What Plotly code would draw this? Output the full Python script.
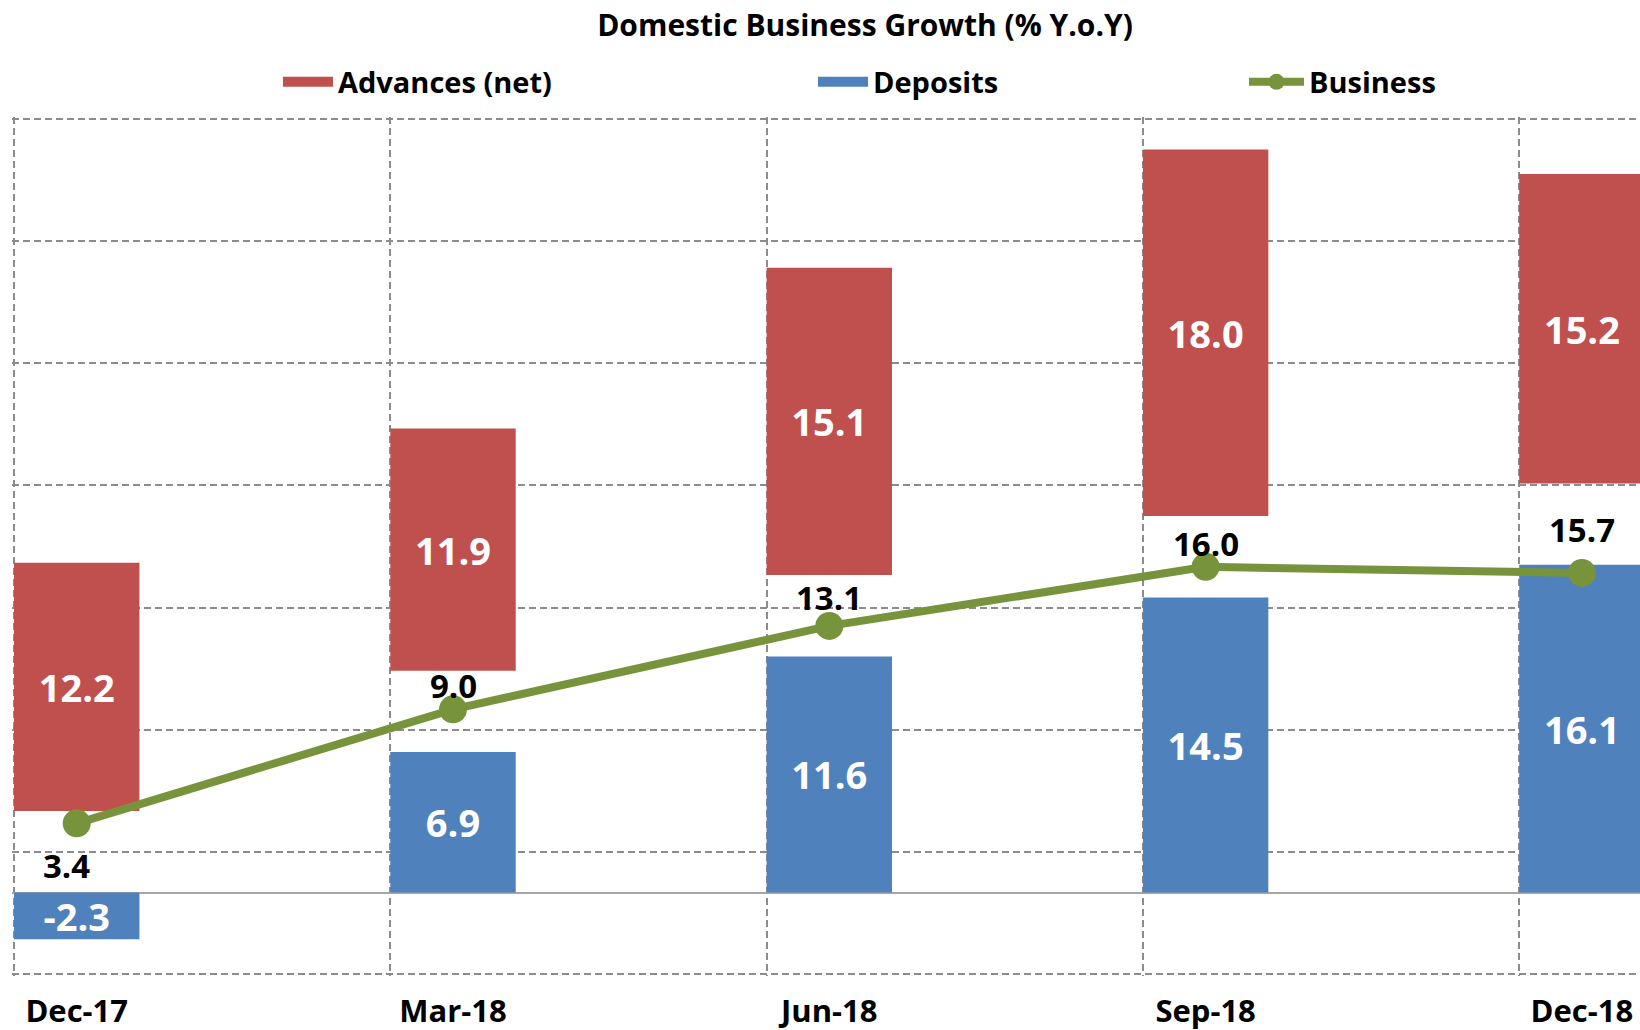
import plotly.graph_objects as go

# ---------------- data ----------------
categories = ["Dec-17", "Mar-18", "Jun-18", "Sep-18", "Dec-18"]
advances = [12.2, 11.9, 15.1, 18.0, 15.2]
deposits = [-2.3, 6.9, 11.6, 14.5, 16.1]
business = [3.4, 9.0, 13.1, 16.0, 15.7]
spacer = [4.0, 4.0, 4.0, 4.0, 4.0]  # invisible gap series between the two stacks

# ---------------- style ----------------
RED = "#C0504D"
BLUE = "#4F81BD"
GREEN = "#77933C"
GRID = "#8C8C8C"
FONT = "Open Sans"

W, H = 1640, 1030
ML, MR, MT, MB = 12, 0, 117, 54
PX_PER_CAT = 376.3
plot_w = W - ML - MR
plot_h = H - MT - MB
x0 = -1 / 6 - 2 / PX_PER_CAT
x1 = x0 + plot_w / PX_PER_CAT

xpos = list(range(len(categories)))

fig = go.Figure()

bar_text_font = dict(color="white", size=38, family=FONT, weight="bold")

fig.add_bar(
    x=xpos, y=deposits, width=1 / 3,
    marker=dict(color=BLUE, line=dict(width=0)),
    text=[f"{v:.1f}" for v in deposits], textposition="inside",
    insidetextanchor="middle", textfont=bar_text_font,
    showlegend=False, hoverinfo="skip",
)
fig.add_bar(
    x=xpos, y=spacer, width=1 / 3,
    marker=dict(color="rgba(0,0,0,0)", line=dict(width=0)),
    showlegend=False, hoverinfo="skip",
)
fig.add_bar(
    x=xpos, y=advances, width=1 / 3,
    marker=dict(color=RED, line=dict(width=0)),
    text=[f"{v:.1f}" for v in advances], textposition="inside",
    insidetextanchor="middle", textfont=bar_text_font,
    showlegend=False, hoverinfo="skip",
)
fig.add_scatter(
    x=xpos, y=business, mode="lines+markers",
    line=dict(color=GREEN, width=8),
    marker=dict(size=28, color=GREEN),
    showlegend=False, hoverinfo="skip",
)

# legend-only entries
fig.add_scatter(x=[None], y=[None], mode="lines", line=dict(color=RED, width=10),
                name="Advances (net)", legend="legend")
fig.add_scatter(x=[None], y=[None], mode="lines", line=dict(color=BLUE, width=10),
                name="Deposits", legend="legend2")
fig.add_scatter(x=[None], y=[None], mode="lines+markers", line=dict(color=GREEN, width=8),
                marker=dict(size=16, color=GREEN), name="Business", legend="legend3")

# business labels
label_yshift = [-42, 24, 28, 23, 43]
label_xshift = [-10, 0, 0, 0, 0]
for xi, v, sy, sx in zip(xpos, business, label_yshift, label_xshift):
    fig.add_annotation(x=xi, y=v, text=f"{v:.1f}", showarrow=False, yshift=sy, xshift=sx,
                       font=dict(size=33, family=FONT, color="black", weight="bold"))


def px_to_paper_x(px):
    return (px - ML) / plot_w


def px_to_paper_y(py):
    return (H - MB - py) / plot_h


legend_font = dict(size=29, family=FONT, color="black", weight="bold")
leg_y = px_to_paper_y(82)
common_leg = dict(orientation="h", yanchor="middle", y=leg_y, xanchor="left",
                  font=legend_font, bgcolor="rgba(0,0,0,0)", borderwidth=0)

fig.update_layout(
    width=W, height=H,
    margin=dict(l=ML, r=MR, t=MT, b=MB, autoexpand=False),
    paper_bgcolor="white", plot_bgcolor="white",
    barmode="relative",
    title=dict(text="<b>Domestic Business Growth (% Y.o.Y)</b>",
               font=dict(size=30, family=FONT, color="black"),
               x=865 / W, xanchor="center", xref="container",
               y=1 - 25 / H, yanchor="middle", yref="container"),
    legend=dict(**common_leg, x=px_to_paper_x(278), itemwidth=50),
    legend2=dict(**common_leg, x=px_to_paper_x(813), itemwidth=50),
    legend3=dict(**common_leg, x=px_to_paper_x(1244), itemwidth=55),
    xaxis=dict(
        range=[x0, x1], tickmode="array", tickvals=xpos, ticktext=categories,
        showgrid=False, zeroline=False, showline=False, ticks="",
        ticklabelstandoff=14,
        tickfont=dict(size=31, family=FONT, color="black", weight="bold"),
        minor=dict(tickmode="array", tickvals=[i - 1 / 6 for i in xpos],
                   showgrid=True, gridcolor=GRID, griddash="7px,4px", gridwidth=1.5,
                   ticks=""),
        fixedrange=True,
    ),
    yaxis=dict(
        range=[-4.1, 38.1], tick0=2, dtick=6, showticklabels=False,
        showgrid=True, gridcolor=GRID, griddash="7px,4px", gridwidth=1.5,
        zeroline=True, zerolinecolor="#A6A6A6", zerolinewidth=2,
        showline=False, ticks="", fixedrange=True,
    ),
    uniformtext=dict(minsize=38, mode="show"),
    showlegend=True,
)

# remove the browser's default 8px page margin so the figure fills the window exactly
fig.write_html("out.html", config={"displayModeBar": False},
               post_script="document.body.style.margin='0';")
